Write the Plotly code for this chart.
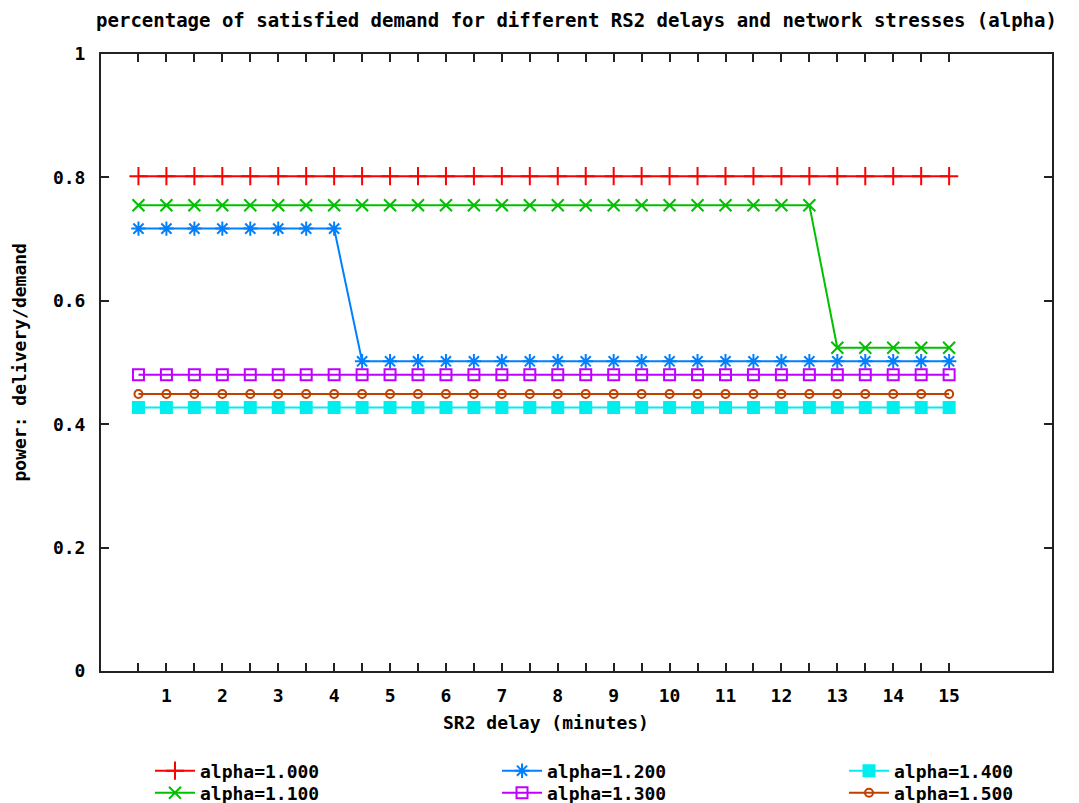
import plotly.graph_objects as go

# ---- data ----
delay = [0.5 * i for i in range(1, 31)]  # 0.5 .. 15.0 minutes
alpha_100 = [0.802] * 30
alpha_110 = [0.755] * 25 + [0.524] * 5
alpha_120 = [0.717] * 8 + [0.502] * 22
alpha_130 = [0.480] * 30
alpha_140 = [0.427] * 30
alpha_150 = [0.449] * 30

series_names = ["alpha=1.000", "alpha=1.100", "alpha=1.200",
                "alpha=1.300", "alpha=1.400", "alpha=1.500"]
series_values = [alpha_100, alpha_110, alpha_120, alpha_130, alpha_140, alpha_150]

x_tick_vals = [0.5 * i for i in range(1, 31)]
x_tick_text = [str(int(v)) if v == int(v) else "" for v in x_tick_vals]
y_tick_vals = [0, 0.2, 0.4, 0.6, 0.8, 1]
y_tick_text = ["0", "0.2", "0.4", "0.6", "0.8", "1"]

# ---- styles ----
colors = ["#ff0000", "#00c000", "#0080ff", "#c000ff", "#00eeee", "#c04000"]
symbols = ["cross-thin-open", "x-thin-open", "asterisk-open",
           "square-open", "square", "circle-open"]
msizes = [13, 12, 12, 11, 11, 8]
legend_ids = ["legend", "legend2", "legend3", "legend4", "legend5", "legend6"]
# legend entry positions (page pixels): left edge, row center
legend_left = [150, 150, 497, 497, 844, 844]
legend_row = [771, 793, 771, 793, 771, 793]

FONT = "DejaVu Sans Mono"
fnt = dict(family=FONT, size=18, color="black", weight="bold")

fig = go.Figure()
for name, vals, c, s, ms, lg in zip(series_names, series_values, colors, symbols, msizes, legend_ids):
    fig.add_trace(go.Scatter(
        x=delay, y=vals, name=name, mode="lines+markers",
        line=dict(color=c, width=2),
        marker=dict(symbol=s, size=ms, color=c, line=dict(color=c, width=2)),
        legend=lg, showlegend=True,
    ))

# page has an 8px body margin: work in page pixels, convert to figure
OFF = 8
W, H = 1079 - OFF, 803 - OFF
PL, PR, PT, PB = 101, 1052, 54, 671  # plot area in page pixels
L = PL - OFF
R = W - (PR - OFF)
T = PT - OFF
B = H - (PB - OFF)
pw = PR - PL
ph = PB - PT

def px_to_paper_x(px):
    return (px - PL) / pw

def px_to_paper_y(py):
    return (PB - py) / ph

legend_layout = {}
for lg, lx, ly in zip(legend_ids, legend_left, legend_row):
    legend_layout[lg] = dict(font=fnt, bgcolor="rgba(0,0,0,0)", orientation="v",
                             yanchor="middle", xanchor="left", itemwidth=40,
                             tracegroupgap=0, visible=True,
                             x=px_to_paper_x(lx), y=px_to_paper_y(ly))

fig.update_layout(
    width=W, height=H,
    margin=dict(l=L, r=R, t=T, b=B, autoexpand=False),
    paper_bgcolor="white", plot_bgcolor="white",
    font=fnt,
    showlegend=True,
    title=dict(text="percentage of satisfied demand for different RS2 delays and network stresses (alpha)",
               x=0.5, xref="paper", xanchor="center",
               y=1 - (20 - OFF) / H, yref="container", yanchor="middle",
               font=dict(family=FONT, size=19, color="black", weight="bold")),
    xaxis=dict(range=[-0.17, 16.84], tickmode="array", tickvals=x_tick_vals,
               ticktext=x_tick_text, ticks="inside", ticklen=8, tickwidth=1.5,
               tickcolor="#222", showline=True, linecolor="#222", linewidth=2,
               mirror="ticks", showgrid=False, zeroline=False,
               ticklabelstandoff=7, tickfont=fnt),
    yaxis=dict(range=[0, 1], tickmode="array", tickvals=y_tick_vals,
               ticktext=y_tick_text, ticks="inside", ticklen=8, tickwidth=1.5,
               tickcolor="#222", showline=True, linecolor="#222", linewidth=2,
               mirror="ticks", showgrid=False, zeroline=False,
               ticklabelstandoff=10, tickfont=fnt),
    annotations=[
        dict(text="SR2 delay (minutes)", x=px_to_paper_x(546), y=px_to_paper_y(722),
             xref="paper", yref="paper", xanchor="center", yanchor="middle",
             showarrow=False, font=fnt),
        dict(text="power: delivery/demand", x=px_to_paper_x(19), y=0.5,
             xref="paper", yref="paper", xanchor="center", yanchor="middle",
             textangle=-90, showarrow=False, font=fnt),
    ],
    **legend_layout,
)

fig.write_html("out.html")
